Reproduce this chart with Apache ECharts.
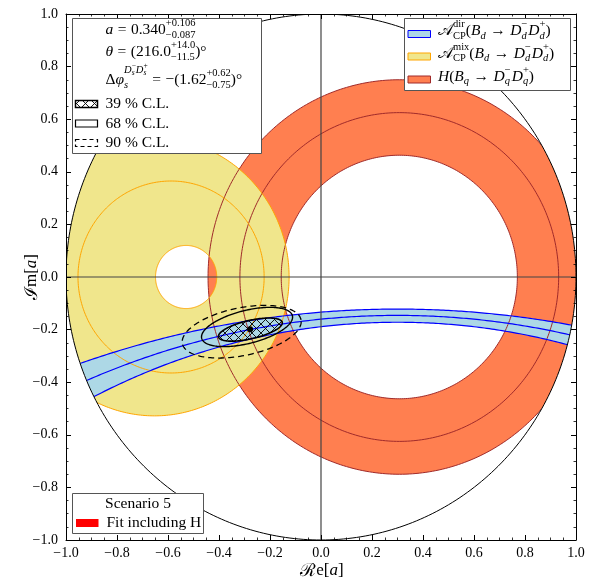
<!DOCTYPE html>
<html>
<head>
<meta charset="utf-8">
<script src="https://cdn.jsdelivr.net/npm/echarts@6/dist/echarts.min.js"></script>
<style>
  html, body { margin: 0; padding: 0; background: #fff; }
  #chart { width: 596px; height: 585px; }
</style>
</head>
<body>
<div id="chart"></div>
<script>
// Contours in the complex a-plane, each circle given as [Re centre, Im centre, radius]
const hOuter = [0.307, 0.0, 0.750];
const hCentral = [0.307, 0.0, 0.625];
const hInner = [0.307, 0.0, 0.463];

const mixOuter = [-0.653, 0.0, 0.528];
const mixCentral = [-0.588, 0.0, 0.365];
const mixInner = [-0.529, 0.0, 0.120];

const dirUpper = [0.300, -3.971, 3.849];
const dirCentral = [0.300, -3.274, 3.128];
const dirLower = [0.300, -2.818, 2.646];

const unitCircle = [0.0, 0.0, 1.0];
const zeroLines = [0.0];

// Fit result: best point and confidence ellipses [Re centre, Im centre, semi-major, semi-minor, tilt in degrees]
const bestFit = [-0.278, -0.199];
const cl39 = [-0.277, -0.200, 0.128, 0.035, 12.5];
const cl68 = [-0.290, -0.190, 0.183, 0.063, 13.5];
const cl90 = [-0.311, -0.208, 0.237, 0.091, 11.0];

const axisMin = -1.0;
const axisMax = 1.0;
const axisStep = 0.2;

const SERIF = '"Liberation Serif", "DejaVu Serif", serif';
const MAIN = 15.5;
const SMALL = 10.5;
const TINY = 7.5;

// ---- geometry helpers (data space -> pixels through the axes) ----
function circlePoints(api, c, n, reverse) {
  const pts = [];
  for (let i = 0; i <= n; i++) {
    const t = (reverse ? -1 : 1) * 2 * Math.PI * i / n;
    pts.push(api.coord([c[0] + c[2] * Math.cos(t), c[1] + c[2] * Math.sin(t)]));
  }
  return pts;
}
function upperArcPoints(api, c, x0, x1, n) {
  const pts = [];
  for (let i = 0; i <= n; i++) {
    const x = x0 + (x1 - x0) * i / n;
    const y = c[1] + Math.sqrt(Math.max(0, c[2] * c[2] - (x - c[0]) * (x - c[0])));
    pts.push(api.coord([x, y]));
  }
  return pts;
}
function ellipsePoints(api, e, n) {
  const [cx, cy, a, b, deg] = e;
  const t = deg * Math.PI / 180;
  const pts = [];
  for (let i = 0; i <= n; i++) {
    const u = 2 * Math.PI * i / n;
    const x = cx + a * Math.cos(u) * Math.cos(t) - b * Math.sin(u) * Math.sin(t);
    const y = cy + a * Math.cos(u) * Math.sin(t) + b * Math.sin(u) * Math.cos(t);
    pts.push(api.coord([x, y]));
  }
  return pts;
}
function toPathData(runs) {
  return runs.map(pts => 'M' + pts.map(p => p[0].toFixed(2) + ' ' + p[1].toFixed(2)).join('L') + 'Z').join(' ');
}
function annulus(api, outer, inner, fill) {
  return {
    type: 'path',
    shape: { pathData: toPathData([circlePoints(api, outer, 360, false), circlePoints(api, inner, 360, true)]) },
    style: { fill: fill, stroke: null }
  };
}
function ring(api, c, stroke, width) {
  return { type: 'polyline', shape: { points: circlePoints(api, c, 360, false) },
           style: { stroke: stroke, lineWidth: width, fill: null } };
}

// cross-hatch tile for the 39 % region
const hatchTile = document.createElement('canvas');
hatchTile.width = 9; hatchTile.height = 9;
(function () {
  const g = hatchTile.getContext('2d');
  g.strokeStyle = '#000';
  g.lineWidth = 0.9;
  g.beginPath();
  g.moveTo(0, 0); g.lineTo(9, 9);
  g.moveTo(9, 0); g.lineTo(0, 9);
  g.stroke();
})();
const hatch = { image: hatchTile, repeat: 'repeat' };

function layer(z, build) {
  return {
    type: 'custom', coordinateSystem: 'cartesian2d', xAxisIndex: 0, yAxisIndex: 0,
    z: z, silent: true, clip: true, data: [[0, 0]],
    renderItem: (params, api) => ({ type: 'group', children: build(api) })
  };
}
function zeroLine(api, p0, p1) {
  const a = api.coord(p0), b = api.coord(p1);
  return { type: 'line', shape: { x1: a[0], y1: a[1], x2: b[0], y2: b[1] }, style: { stroke: '#444', lineWidth: 1.2 } };
}

const series = [
  // H(Bq -> Dq Dq) band
  layer(1, api => [annulus(api, hOuter, hInner, '#ff7f50')]),
  // A_CP^mix band
  layer(2, api => [annulus(api, mixOuter, mixInner, '#f0e68c')]),
  // A_CP^dir band
  layer(3, api => {
    const up = upperArcPoints(api, dirUpper, axisMin, axisMax, 200);
    const low = upperArcPoints(api, dirLower, axisMin, axisMax, 200).reverse();
    return [{ type: 'polygon', shape: { points: up.concat(low) }, style: { fill: '#add8e6', stroke: null } }];
  }),
  // contour lines
  layer(4, api => [
    ring(api, hOuter, '#a02a2a', 1), ring(api, hCentral, '#a02a2a', 1), ring(api, hInner, '#a02a2a', 1),
    ring(api, mixOuter, '#ffa500', 1), ring(api, mixCentral, '#ffa500', 1), ring(api, mixInner, '#ffa500', 1)
  ]),
  layer(5, api => [dirUpper, dirCentral, dirLower].map(c => ({
    type: 'polyline', shape: { points: upperArcPoints(api, c, axisMin, axisMax, 200) },
    style: { stroke: '#0000ff', lineWidth: 1.2, fill: null }
  }))),
  // physical region |a| <= 1: blank out everything outside the unit circle
  layer(6, api => {
    const frame = [[axisMax, 0], [axisMax, axisMax], [axisMin, axisMax], [axisMin, axisMin], [axisMax, axisMin], [axisMax, 0]]
      .map(p => api.coord(p));
    const hole = circlePoints(api, unitCircle, 360, true);
    return [{ type: 'polygon', shape: { points: frame.concat(hole) }, style: { fill: '#fff', stroke: null } }];
  }),
  // unit circle and zero lines
  layer(7, api => {
    const els = [ring(api, unitCircle, '#000', 1)];
    zeroLines.forEach(v => {
      els.push(zeroLine(api, [axisMin, v], [axisMax, v]));
      els.push(zeroLine(api, [v, axisMin], [v, axisMax]));
    });
    return els;
  }),
  // fit contours
  layer(8, api => {
    const dot = api.coord(bestFit);
    return [
      { type: 'polygon', shape: { points: ellipsePoints(api, cl39, 180) }, style: { fill: hatch, stroke: '#000', lineWidth: 1.6 } },
      { type: 'polyline', shape: { points: ellipsePoints(api, cl68, 180) }, style: { fill: null, stroke: '#000', lineWidth: 1.4 } },
      { type: 'polyline', shape: { points: ellipsePoints(api, cl90, 180) }, style: { fill: null, stroke: '#000', lineWidth: 1.3, lineDash: [6, 4] } },
      { type: 'circle', shape: { cx: dot[0], cy: dot[1], r: 3 }, style: { fill: '#000' } }
    ];
  })
];

// ---- axes ----
const tickFmt = v => Math.abs(v) < 1e-9 ? '0.0' : (v < 0 ? '\u2212' : '') + Math.abs(v).toFixed(1);
function axis(extra) {
  return Object.assign({
    type: 'value', min: axisMin, max: axisMax, interval: axisStep, z: 10,
    axisLine: { show: true, onZero: false, lineStyle: { color: '#000', width: 1 } },
    axisTick: { show: true, inside: true, length: 5, lineStyle: { color: '#000', width: 1 } },
    minorTick: { show: true, splitNumber: 4, length: 2.5, lineStyle: { color: '#000', width: 0.8 } },
    splitLine: { show: false }, minorSplitLine: { show: false },
    axisLabel: { show: true, formatter: tickFmt, fontFamily: SERIF, fontSize: 14, color: '#000' }
  }, extra);
}

// ---- math-style text layout for legends ----
const measure = document.createElement('canvas').getContext('2d');
function fontStr(size, italic) { return (italic ? 'italic ' : '') + size + 'px ' + SERIF; }
function widthOf(t, size, italic) { measure.font = fontStr(size, italic); return measure.measureText(t).width; }
function layoutRun(pieces, x, y, out) {
  let w = 0;
  for (const p of pieces) {
    if (p.gap) { w += p.gap; continue; }
    if (p.stack) {
      let m = 0;
      for (const run of p.stack) m = Math.max(m, layoutRun(run, x + w, y, out));
      w += m;
      continue;
    }
    const size = p.s || MAIN;
    out.push({
      type: 'text', x: x + w, y: y + (p.dy || 0), z: 21,
      style: { text: p.t, font: fontStr(size, p.it), fill: '#000', align: 'left', verticalAlign: 'middle', textAlign: 'left', textVerticalAlign: 'middle' }
    });
    w += widthOf(p.t, size, p.it);
  }
  return w;
}
const sup = (t, it) => [{ t: t, s: SMALL, dy: -6.5, it: it }];
const sub = (t, it) => [{ t: t, s: SMALL, dy: 5, it: it }];
// relation symbols get thick spaces on both sides
const rel = (t) => [{ gap: 4.5 }, { t: t }, { gap: 4.5 }];

const fitRows = [
  { y: 30, run: [{ t: 'a', it: true }, ...rel('='), { t: '0.340' }, { stack: [sup('+0.106'), sub('\u22120.087')] }] },
  { y: 52, run: [{ t: '\u03b8', it: true }, ...rel('='), { t: '(216.0' }, { stack: [sup('+14.0'), sub('\u221211.5')] }, { t: ')\u00b0' }] },
  { y: 80, run: [
    { t: '\u0394' }, { t: '\u03c6', it: true },
    { stack: [
      [{ t: 's', it: true, s: SMALL, dy: 5 }],
      [{ t: 'D', it: true, s: SMALL, dy: -9.5 }, { stack: [[{ t: '\u2212', s: TINY, dy: -13.5 }], [{ t: 's', it: true, s: TINY, dy: -6.5 }]] },
       { t: 'D', it: true, s: SMALL, dy: -9.5 }, { stack: [[{ t: '+', s: TINY, dy: -13.5 }], [{ t: 's', it: true, s: TINY, dy: -6.5 }]] }]
    ] },
    ...rel('='), { t: '\u2212(1.62' }, { stack: [sup('+0.62'), sub('\u22120.75')] }, { t: ')\u00b0' }
  ] }
];
const clRows = [
  { y: 104, label: '39 % C.L.', icon: 'hatch' },
  { y: 123.5, label: '68 % C.L.', icon: 'solid' },
  { y: 143, label: '90 % C.L.', icon: 'dashed' }
];
const decayRow = (tag) => [
  { t: '\ud835\udc9c' }, { stack: [sup(tag), sub('CP')] }, { t: '(' }, { t: 'B', it: true }, { t: 'd', it: true, s: SMALL, dy: 5 },
  ...rel('\u2192'), { t: 'D', it: true }, { stack: [sup('\u2212'), sub('d', true)] }, { gap: 1 },
  { t: 'D', it: true }, { stack: [sup('+'), sub('d', true)] }, { t: ')' }
];
const bandRows = [
  { y: 31, run: decayRow('dir'), fill: '#add8e6', stroke: '#0000ff' },
  { y: 53.5, run: decayRow('mix'), fill: '#f0e68c', stroke: '#ffa500' },
  { y: 76.5, run: [
    { t: 'H', it: true }, { t: '(' }, { t: 'B', it: true }, { t: 'q', it: true, s: SMALL, dy: 5 },
    ...rel('\u2192'), { t: 'D', it: true }, { stack: [sup('\u2212'), sub('q', true)] }, { gap: 1 },
    { t: 'D', it: true }, { stack: [sup('+'), sub('q', true)] }, { t: ')' }
  ], fill: '#ff7f50', stroke: '#a02a2a' }
];

const graphics = [];
// fit legend
graphics.push({ type: 'rect', z: 20, shape: { x: 72.5, y: 18.5, width: 189, height: 135 }, style: { fill: '#fff', stroke: '#555', lineWidth: 1 } });
fitRows.forEach(r => layoutRun(r.run, 105.5, r.y, graphics));
clRows.forEach(r => {
  const st = r.icon === 'hatch' ? { fill: hatch, stroke: '#000', lineWidth: 1.5 }
           : r.icon === 'solid' ? { fill: '#fff', stroke: '#000', lineWidth: 1.2 }
           : { fill: '#fff', stroke: '#000', lineWidth: 1.2, lineDash: [4, 3] };
  graphics.push({ type: 'rect', z: 21, shape: { x: 75.5, y: r.y - 3.5, width: 22, height: 7 }, style: st });
  layoutRun([{ t: r.label }], 105.5, r.y, graphics);
});
// band legend
graphics.push({ type: 'rect', z: 20, shape: { x: 404.5, y: 18.5, width: 166, height: 72 }, style: { fill: '#fff', stroke: '#555', lineWidth: 1 } });
bandRows.forEach(r => {
  graphics.push({ type: 'rect', z: 21, shape: { x: 408, y: r.y - 0.5, width: 22.5, height: 7 }, style: { fill: r.fill, stroke: r.stroke, lineWidth: 1 } });
  layoutRun(r.run, 438, r.y, graphics);
});
// scenario box
graphics.push({ type: 'rect', z: 20, shape: { x: 72.5, y: 493.5, width: 131, height: 40 }, style: { fill: '#fff', stroke: '#555', lineWidth: 1 } });
graphics.push({ type: 'text', z: 21, x: 138, y: 503.5, style: { text: 'Scenario 5', font: fontStr(MAIN), fill: '#000', align: 'center', verticalAlign: 'middle', textAlign: 'center', textVerticalAlign: 'middle' } });
graphics.push({ type: 'rect', z: 21, shape: { x: 76, y: 519, width: 22.5, height: 8 }, style: { fill: '#ff0000', stroke: null } });
layoutRun([{ t: 'Fit including H' }], 106.5, 522.5, graphics);
// axis titles
const titleRich = {
  cal: { fontFamily: SERIF, fontSize: 18, color: '#000' },
  n: { fontFamily: SERIF, fontSize: 17, color: '#000' },
  i: { fontFamily: SERIF, fontSize: 17, fontStyle: 'italic', color: '#000' }
};
graphics.push({ type: 'text', z: 21, x: 322, y: 571, style: { text: '{cal|\u211b}{n|e[}{i|a}{n|]}', rich: titleRich, align: 'center', verticalAlign: 'middle', textAlign: 'center', textVerticalAlign: 'middle' } });
graphics.push({ type: 'text', z: 21, x: 32, y: 277, rotation: Math.PI / 2, style: { text: '{cal|\u2110}{n|m[}{i|a}{n|]}', rich: titleRich, align: 'center', verticalAlign: 'middle', textAlign: 'center', textVerticalAlign: 'middle' } });

const chart = echarts.init(document.getElementById('chart'), null, { renderer: 'canvas' });
chart.setOption({
  animation: false,
  backgroundColor: '#fff',
  grid: { left: 66, right: 20, top: 14, bottom: 45, containLabel: false },
  xAxis: [
    axis({ position: 'bottom', axisLabel: { show: true, formatter: tickFmt, fontFamily: SERIF, fontSize: 14, color: '#000', margin: 6 } }),
    axis({ position: 'top', axisLabel: { show: false } })
  ],
  yAxis: [
    axis({ position: 'left', axisLabel: { show: true, formatter: tickFmt, fontFamily: SERIF, fontSize: 14, color: '#000', margin: 8 } }),
    axis({ position: 'right', axisLabel: { show: false } })
  ],
  series: series,
  graphic: { elements: graphics }
});
</script>
</body>
</html>
